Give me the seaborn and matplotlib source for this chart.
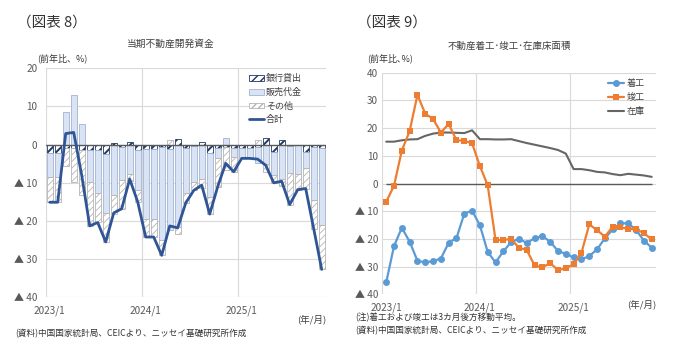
import matplotlib.pyplot as plt
import numpy as np
import seaborn as sns

months = [f"{y}/{m}" for y in (2023, 2024, 2025) for m in range(1, 13)][:35]

# 図表8: 当期不動産開発資金 (前年比%, 寄与度)
bank_loans = [-2.3, -2.3, -0.8, -1.0, -1.5, -1.3, -1.3, -2.4, 0.3, -0.5, 0.7, -1.5,
              -1.2, -1.2, -0.5, -1.2, 1.6, -1.0, -0.3, 0.7, -2.3, -1.0, -0.5, -0.8,
              -1.0, -1.0, -0.5, 1.8, -2.0, 1.3, -0.3, -0.2, -1.9, -0.5, -1.0]
sales_proceeds = [-6.3, -6.3, 8.5, 13.1, 5.5, -8.5, -11.4, -15.6, -13.1, -8.8, -7.6, -10.5,
                  -18.2, -18.2, -24.5, -21.2, -21.5, -11.8, -9.5, -8.9, -11.5, -2.6, 1.8, -2.5,
                  -2.6, -2.6, -4.4, -5.0, -6.0, -8.9, -7.1, -7.4, -4.1, -14.0, -20.0]
others = [-6.5, -6.5, -4.8, -8.9, -11.6, -11.5, -7.7, -7.5, -5.1, -7.5, -2.0, -3.0,
          -4.8, -4.8, -4.0, 1.1, -1.9, -2.5, -2.2, -2.4, -4.4, -7.4, -6.2, -3.8,
          0.0, 0.0, 1.1, -2.2, -2.0, -2.0, -8.3, -4.2, -5.5, -7.5, -11.7]
total_funds = [-15.1, -15.1, 2.9, 3.2, -8.0, -21.3, -20.4, -25.5, -17.9, -16.8, -9.0, -15.0,
               -24.2, -24.2, -29.0, -21.3, -21.8, -15.3, -12.0, -10.6, -18.2, -11.0, -4.9, -7.1,
               -3.6, -3.6, -3.8, -5.4, -10.0, -9.6, -15.7, -11.8, -11.5, -22.0, -32.7]

# 図表9: 不動産着工・竣工・在庫床面積 (前年比%)
starts = [-35.7, -22.6, -16.0, -21.0, -27.9, -28.5, -28.0, -27.1, -21.4, -19.7, -10.9, -9.8,
          -15.1, -24.7, -28.5, -24.5, -21.2, -19.9, -21.5, -19.7, -19.0, -21.0, -24.4, -25.4,
          -26.7, -27.4, -26.2, -23.8, -19.8, -16.6, -14.4, -14.4, -16.8, -20.6, -23.2]
completions = [-6.6, -0.8, 11.9, 18.9, 32.0, 25.2, 23.3, 18.4, 21.5, 15.6, 15.4, 14.5,
               6.3, -0.7, -20.4, -20.4, -20.0, -23.2, -24.0, -29.6, -30.3, -28.7, -31.3, -30.6,
               -29.2, -25.1, -14.8, -16.8, -19.2, -15.6, -15.8, -16.4, -16.6, -17.9, -20.2]
inventory = [15.1, 15.1, 15.6, 15.9, 16.0, 17.2, 18.0, 18.4, 18.4, 18.3, 18.2, 19.2,
             16.0, 16.0, 15.9, 15.9, 16.0, 15.3, 14.6, 14.0, 13.4, 12.8, 12.1, 10.8,
             5.2, 5.2, 4.8, 4.2, 4.0, 3.4, 3.0, 3.5, 3.2, 2.9, 2.4]

sns.set_theme(style="white")
plt.rcParams["font.family"] = ["Noto Sans CJK JP", "DejaVu Sans"]

W, H = 680, 357
TXT = "#404040"
TICK = "#595959"
GRID = "#D9D9D9"


def fpos(x, y):
    return x / W, 1 - y / H


def tri_fmt(v):
    return f"▲ {int(-v)}" if v < 0 else f"{int(v)}"


def style_axes(ax, yticks, ypad):
    idx = np.arange(len(months))
    ax.set_xlim(-0.5, len(months) - 0.5)
    ax.set_ylim(yticks[0], yticks[-1])
    ax.set_yticks(yticks, [tri_fmt(v) for v in yticks])
    year_starts = [i for i, m in enumerate(months) if m.endswith("/1")]
    ax.set_xticks(idx[year_starts], [months[i] for i in year_starts])
    ax.tick_params(length=0, labelsize=7.2, colors=TICK)
    ax.tick_params(axis="x", pad=6)
    ax.tick_params(axis="y", pad=ypad)
    for v in yticks:
        ax.axhline(v, color=GRID, lw=0.8, zorder=0)
    for i in year_starts:
        ax.axvline(i - 0.5, color=GRID, lw=0.8, zorder=0)
    for s in ax.spines.values():
        s.set_visible(False)
    ax.set_xlabel("")
    ax.set_ylabel("")


fig = plt.figure(figsize=(W / 100, H / 100), dpi=100)

# ---------------- 図表8 ----------------
ax1 = fig.add_axes([45.7 / W, 1 - 297.3 / H, 280 / W, 229 / H])
idx = np.arange(len(months))
components = [
    ("銀行貸出", bank_loans, dict(color="white", edge="#203864", hatch="////", hlw=1.4)),
    ("販売代金", sales_proceeds, dict(color="#DAE3F3", edge="#9FB4D2", hatch=None, hlw=0.5)),
    ("その他", others, dict(color="white", edge="#B4B4B4", hatch="/////", hlw=0.6)),
]
pos = np.zeros(len(months))
neg = np.zeros(len(months))
for label, vals, st in components:
    v = np.array(vals)
    bottom = np.where(v >= 0, pos, neg)
    with plt.rc_context({"hatch.linewidth": st["hlw"]}):
        sns.barplot(x=idx, y=v, bottom=bottom, ax=ax1, color=st["color"], saturation=1,
                    edgecolor=st["edge"], linewidth=0.6, hatch=st["hatch"],
                    width=0.72, errorbar=None, label=label, zorder=2)
    pos += np.clip(v, 0, None)
    neg += np.clip(v, None, 0)

ax1.axhline(0, color="#595959", lw=1.0, zorder=3)
sns.lineplot(x=idx, y=total_funds, ax=ax1, color="#2F5597", lw=2.0, label="合計", zorder=4)
style_axes(ax1, [-40, -30, -20, -10, 0, 10, 20], ypad=6)
handles, labels = ax1.get_legend_handles_labels()
order = [labels.index(n) for n in ("銀行貸出", "販売代金", "その他", "合計")]
ax1.legend([handles[i] for i in order], [labels[i] for i in order],
           loc="upper left", bbox_to_anchor=(0.71, 0.995), frameon=False, fontsize=6.5,
           handlelength=1.7, handleheight=0.6, labelspacing=0.5, borderpad=0,
           handletextpad=0.2, labelcolor=TXT)

fig.text(*fpos(17, 23), "（図表 8）", fontsize=10.5, color="#333333", va="center")
fig.text(*fpos(171, 44), "当期不動産開発資金", fontsize=7, color=TXT, ha="center", va="center")
fig.text(*fpos(37, 58), "(前年比、%)", fontsize=6.5, color="#333333", va="center")
fig.text(*fpos(326, 319), "(年/月)", fontsize=6.8, color=TXT, ha="right", va="center")
fig.text(*fpos(15, 334), "(資料)中国国家統計局、CEICより、ニッセイ基礎研究所作成",
         fontsize=6.2, color="#333333", va="center")

# ---------------- 図表9 ----------------
ax2 = fig.add_axes([382.3 / W, 1 - 294.3 / H, 273.3 / W, 221.6 / H])
ax2.hlines(0, 0, len(months) - 1, color="#595959", lw=1.0, zorder=2)
sns.lineplot(x=idx, y=starts, ax=ax2, color="#5B9BD5", lw=1.6, marker="o", markersize=5,
             markeredgewidth=0, label="着工", zorder=4)
sns.lineplot(x=idx, y=completions, ax=ax2, color="#ED7D31", lw=1.6, marker="s", markersize=5,
             markeredgewidth=0, label="竣工", zorder=4)
sns.lineplot(x=idx, y=inventory, ax=ax2, color="#666666", lw=1.5, label="在庫", zorder=3)
style_axes(ax2, [-40, -30, -20, -10, 0, 10, 20, 30, 40], ypad=3)
ax2.legend(loc="upper left", bbox_to_anchor=(0.81, 0.99), frameon=False, fontsize=6.5,
           handlelength=1.8, labelspacing=0.55, borderpad=0, handletextpad=0.2,
           labelcolor=TXT)

fig.text(*fpos(357, 23), "（図表 9）", fontsize=10.5, color="#333333", va="center")
fig.text(*fpos(509, 46), "不動産着工･竣工･在庫床面積", fontsize=6.8, color=TXT,
         ha="center", va="center")
fig.text(*fpos(367, 58), "(前年比､%)", fontsize=6.5, color="#333333", va="center")
fig.text(*fpos(656, 304), "(年/月)", fontsize=6.8, color=TXT, ha="right", va="center")
fig.text(*fpos(355, 318), "(注)着工および竣工は3カ月後方移動平均。", fontsize=6.2,
         color="#333333", va="center")
fig.text(*fpos(355, 331), "(資料)中国国家統計局、CEICより、ニッセイ基礎研究所作成",
         fontsize=6.2, color="#333333", va="center")

fig.savefig("out.png", dpi=100, facecolor="white")
